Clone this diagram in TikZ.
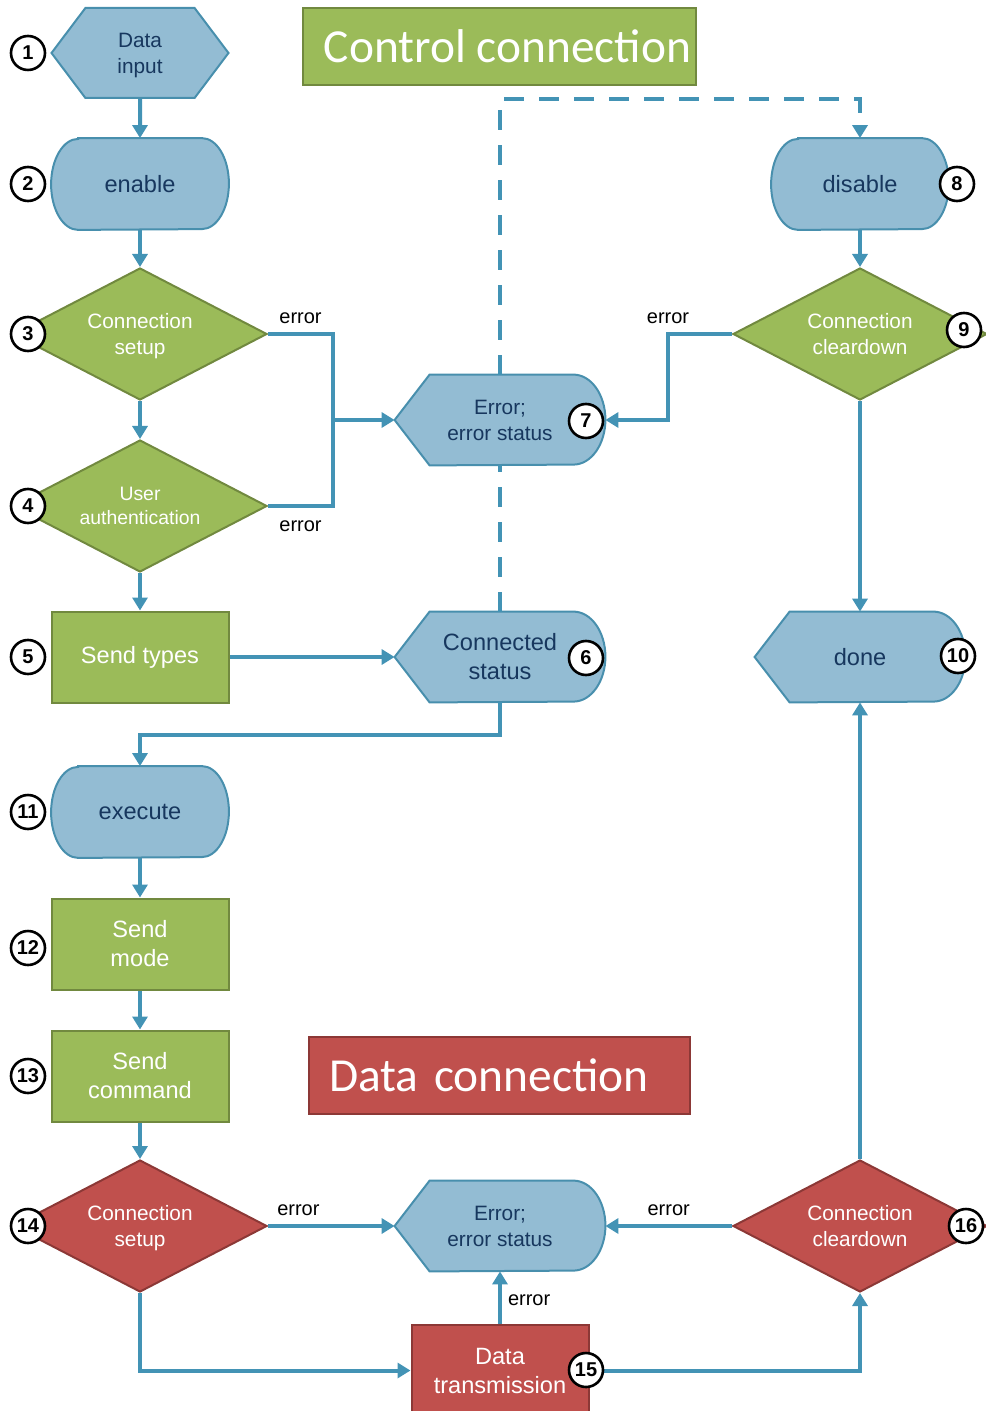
\documentclass[tikz,border=0pt]{standalone}
\usepackage{fontspec}
\setmainfont{Liberation Sans}
\newfontfamily\titlefont{Carlito}
\usetikzlibrary{arrows.meta,positioning,shapes.geometric,shapes.symbols,backgrounds}
\definecolor{BoxBlue}{RGB}{147,188,211}
\definecolor{EdgeBlue}{RGB}{72,143,173}
\definecolor{LineBlue}{RGB}{67,147,181}
\definecolor{NavyText}{RGB}{23,55,94}
\definecolor{LeafGreen}{RGB}{155,187,89}
\definecolor{DarkGreen}{RGB}{113,137,63}
\definecolor{BrickRed}{RGB}{192,80,77}
\definecolor{DarkRed}{RGB}{140,56,54}

\tikzset{
  conn/.style={draw=LineBlue,line width=2pt},
  arr/.style={conn,-{Triangle[width=7.5pt,length=6.5pt]}},
  dsh/.style={conn,line width=2.3pt,dash pattern=on 10pt off 7.5pt},
  bigtxt/.style={font=\fontsize{11.8}{14.5}\selectfont},
  smalltxt/.style={font=\fontsize{10.4}{13}\selectfont},
  termnode/.style={bigtxt,text=NavyText,minimum width=88.5pt,minimum height=45.5pt,align=center},
  dispnode/.style={smalltxt,text=NavyText,minimum width=105pt,minimum height=45pt,align=center},
  hexnode/.style={signal,signal to=west and east,signal pointer angle=106,
    draw=EdgeBlue,fill=BoxBlue,line width=1pt,smalltxt,text=NavyText,text depth=0pt,
    minimum width=88.5pt,minimum height=45pt,align=center,inner sep=0pt},
  gdiam/.style={diamond,aspect=1.9,inner sep=0pt,minimum width=127pt,minimum height=66pt,
    draw=DarkGreen,fill=LeafGreen,line width=1pt,text=white,smalltxt,align=center},
  rdiam/.style={gdiam,draw=DarkRed,fill=BrickRed},
  gbox/.style={rectangle,draw=DarkGreen,fill=LeafGreen,line width=1pt,text=white,bigtxt,
    minimum width=88.5pt,minimum height=45.5pt,align=center},
  rbox/.style={gbox,draw=DarkRed,fill=BrickRed},
  titlebox/.style={rectangle,line width=1pt,text=white,minimum height=38.5pt,
    font=\titlefont\fontsize{23.7}{26}\selectfont},
  errlbl/.style={font=\fontsize{10}{12}\selectfont,text=black,inner xsep=3pt,inner ysep=4pt},
  numc/.style={circle,draw=black,fill=white,line width=1.3pt,minimum size=17pt,inner sep=0pt,
    font=\bfseries\fontsize{10}{10}\selectfont}
}

% outlines drawn behind the blue nodes
\newcommand\termoutline[1]{%
  \filldraw[fill=BoxBlue,draw=EdgeBlue,line width=1pt]
    ([xshift=13.5pt]#1.north west) -- ([xshift=-13.5pt]#1.north east)
    arc[start angle=90,end angle=-90,x radius=13.5pt,y radius=22.75pt]
    -- ([xshift=13.5pt]#1.south west)
    arc[start angle=270,end angle=90,x radius=13.5pt,y radius=22.75pt] -- cycle;}
\newcommand\dispoutline[1]{%
  \filldraw[fill=BoxBlue,draw=EdgeBlue,line width=1pt]
    (#1.west) -- ([xshift=17.5pt]#1.north west) -- ([xshift=-16pt]#1.north east)
    arc[start angle=90,end angle=-90,x radius=16pt,y radius=22.5pt]
    -- ([xshift=17.5pt]#1.south west) -- cycle;}

\begin{document}
\begin{tikzpicture}[x=0.5pt,y=-0.5pt]
  \useasboundingbox (0,0) rectangle (985,1411);

  % titles
  \node[titlebox,fill=LeafGreen,draw=DarkGreen,minimum width=196.5pt,inner xsep=0pt] (ctitle) at (499.5,46.5) {\hspace*{8pt}Control connection};
  \node[titlebox,fill=BrickRed,draw=DarkRed,text width=170.5pt,inner xsep=10pt,align=left] (dtitle) at (499.5,1075.5) {Data connection};

  % left column
  \node[hexnode] (input) at (140,53) {Data\\input};
  \node[termnode] (enable) at (140,184) {enable};
  \node[gdiam,text depth=0pt] (csetup) at (140,334) {Connection\\setup};
  \node[gdiam,font=\fontsize{9.7}{12}\selectfont] (auth) at (140,506) {User\\authentication};
  \node[gbox] (types) at (140,657) {Send types};
  \node[termnode] (execute) at (140,812) {execute};
  \node[gbox] (mode) at (140,944) {Send\\mode};
  \node[gbox] (cmd) at (140,1076) {Send\\command};
  \node[rdiam,text depth=0pt] (dsetup) at (140,1226) {Connection\\setup};

  % middle column
  \node[dispnode] (err) at (500,420) {Error;\\error status};
  \node[dispnode,bigtxt] (connst) at (500,657) {Connected\\status};
  \node[dispnode] (derr) at (500,1226) {Error;\\error status};
  \node[rbox] (trans) at (500,1370.5) {Data\\transmission};

  % right column
  \node[termnode] (disable) at (860,184) {disable};
  \node[gdiam] (cdown) at (860,334) {Connection\\cleardown};
  \node[dispnode,bigtxt] (done) at (860,657) {done};
  \node[rdiam] (ddown) at (860,1226) {Connection\\cleardown};

  \begin{scope}[on background layer]
    \termoutline{enable}
    \termoutline{execute}
    \termoutline{disable}
    \dispoutline{err}
    \dispoutline{connst}
    \dispoutline{derr}
    \dispoutline{done}
  \end{scope}

  % control connection
  \draw[arr] (input) -- (enable);
  \draw[arr] (enable) -- (csetup);
  \draw[arr] (csetup) -- (auth);
  \draw[arr] (auth) -- (types);
  \draw[conn] (csetup.east) -- node[errlbl,above]{error} ++(65,0) coordinate (errbus)
    |- node[errlbl,pos=0.75,below,yshift=-2.5pt]{error} (auth.east);
  \draw[arr] (errbus |- err.west) -- (err.west);
  \draw[arr] (types) -- (connst);
  \draw[dsh] (connst.north) -- (err.south);
  \coordinate (dtop) at (500,99);
  \draw[dsh,-{Triangle[width=7.5pt,length=6.5pt]}] (err.north) -- (dtop) -| (disable.north);
  \draw[arr] (disable) -- (cdown);
  \draw[arr] (cdown.west) -- ++(-64,0) node[errlbl,above]{error} |- (err.east);
  \draw[arr] (cdown) -- (done);
  \draw[arr] (connst.south) -- ++(0,33) -| (execute.north);

  % data connection
  \draw[arr] (execute) -- (mode);
  \draw[arr] (mode) -- (cmd);
  \draw[arr] (cmd) -- (dsetup);
  \draw[arr] (dsetup.east) -- node[errlbl,above,pos=0.24]{error} (derr.west);
  \draw[arr] (dsetup.south) |- (trans.west);
  \draw[arr] (trans.north) -- node[errlbl,right,yshift=-1.5pt]{error} (derr.south);
  \draw[arr] (trans.east) -| (ddown.south);
  \draw[arr] (ddown.west) -- node[errlbl,above]{error} (derr.east);
  \draw[arr] (ddown.north) -- (done.south);

  % step numbers
  \foreach \num/\px/\py in {1/28/53,2/28/184,3/28/334,4/28/506,5/28/657,6/586/658,
      7/586/421,8/957/184,9/964/330,10/958/656,11/28/812,12/28/948,13/28/1076,
      14/28/1226,15/586/1370,16/966/1226}
    \node[numc] (n\num) at (\px,\py) {\num};
\end{tikzpicture}
\end{document}
